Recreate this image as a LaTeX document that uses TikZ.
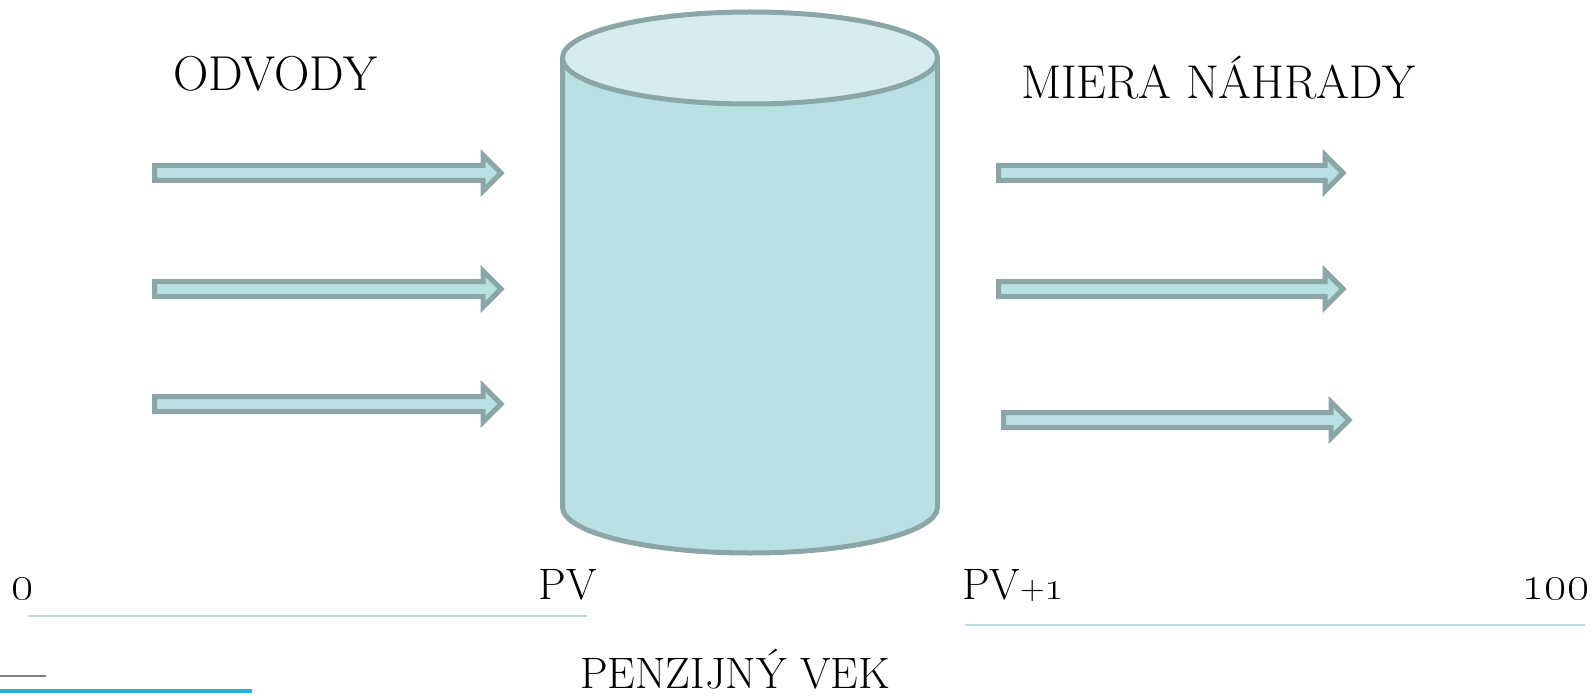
\documentclass[tikz,border=0pt]{standalone}
\usepackage{tikz}

\definecolor{tankline}{RGB}{139,166,167}
\definecolor{tankbody}{RGB}{185,224,227}
\definecolor{tanktop}{RGB}{215,236,239}
\definecolor{axisline}{RGB}{183,221,227}
\definecolor{barblue}{RGB}{31,179,224}

% one flat arrow: #1 back end, #2 tip, #3 row
\newcommand{\flowarr}[3]{%
  \draw[flow] (#1,#3-7.5) -- (#2-18,#3-7.5) -- (#2-18,#3-18) -- (#2,#3)
    -- (#2-18,#3+18) -- (#2-18,#3+7.5) -- (#1,#3+7.5) -- cycle;}

\begin{document}
\begin{tikzpicture}[x=0.5pt,y=-0.5pt,
    lbl/.style={font=\fontsize{22}{26}\selectfont,inner sep=0pt,anchor=base},
    big/.style={lbl,font=\fontsize{24.5}{28}\selectfont},
    num/.style={lbl,font=\fontsize{27}{30}\selectfont\bfseries},
    tank/.style={draw=tankline,line width=2.5pt,line join=round},
    flow/.style={draw=tankline,fill=tankbody,line width=2.5pt,line join=miter},
    axis/.style={draw=axisline,line width=1pt}] %
    \useasboundingbox (0,0) rectangle (1593,695);
    % tank
    \fill[tankbody] (562.5,58) -- (562.5,507)
      arc[start angle=180,end angle=360,x radius=93.75pt,y radius=23pt] -- (937.5,58) -- cycle;
    \draw[tank] (562.5,58) -- (562.5,507)
      arc[start angle=180,end angle=360,x radius=93.75pt,y radius=23pt] -- (937.5,58);
    \draw[tank,fill=tanktop] (750,58) ellipse[x radius=93.75pt,y radius=23pt];
    % inflow and outflow
    \foreach \row in {173,289,404} {\flowarr{154.5}{501}{\row}}
    \flowarr{998.5}{1343}{173}
    \flowarr{998.5}{1343}{289}
    \flowarr{1003.5}{1349}{420}
    % texts
    \node[big] (odvody) at (275,91) {ODVODY};
    \node[big,font=\fontsize{23.7}{28}\selectfont] (miera) at (1218,99) {MIERA NÁHRADY};
    \node[num] (zero) at (23,599) {\oldstylenums{0}};
    \node[lbl] (pv) at (568,599) {PV};
    \node[lbl] (pvone) at (1013,599) {PV{\fontsize{17}{20}\selectfont+}\oldstylenums{1}};
    \node[num] (hundred) at (1556,599) {\oldstylenums{100}};
    \node[lbl] (vek) at (735,688) {PENZIJNÝ VEK};
    % age axes
    \coordinate (la) at (28,616);
    \coordinate (lb) at (587,616);
    \coordinate (ra) at (965,625);
    \coordinate (rb) at (1585,625);
    \draw[axis] (la) -- (lb);
    \draw[axis] (ra) -- (rb);
    % corner bars
    \coordinate (ga) at (0,676);
    \coordinate (gb) at (46,676);
    \coordinate (ba) at (0,691);
    \coordinate (bb) at (252,691);
    \draw[gray,line width=0.75pt] (ga) -- (gb);
    \draw[barblue,line width=2pt] (ba) -- (bb);
\end{tikzpicture}
\end{document}
